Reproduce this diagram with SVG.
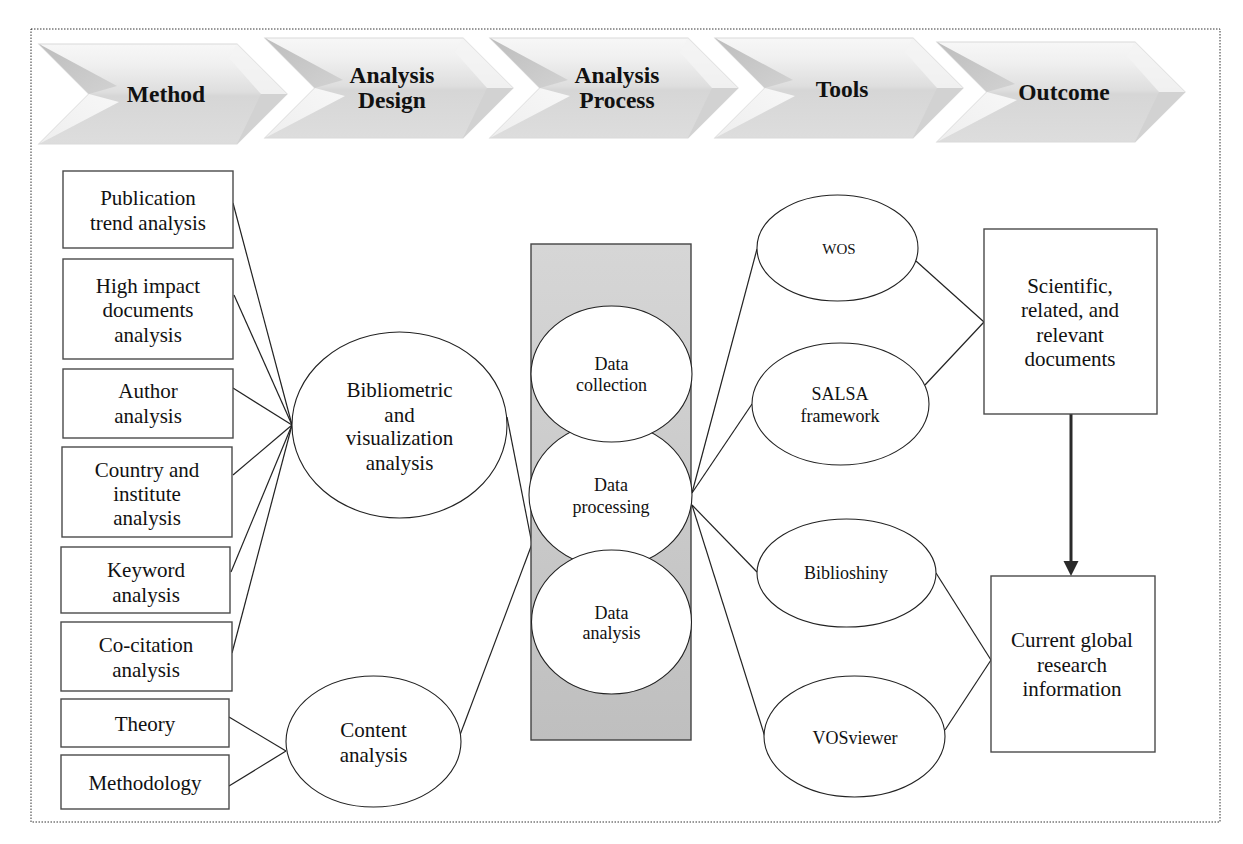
<svg xmlns="http://www.w3.org/2000/svg" xmlns:xlink="http://www.w3.org/1999/xlink" width="1243" height="844" viewBox="0 0 1243 844">
<style>
text{font-family:"Liberation Serif","Times New Roman",serif;fill:#111;text-anchor:middle}
.hd{font-size:23.5px;font-weight:bold}
.t21{font-size:21px}
.t18{font-size:18px}
.t15{font-size:15px}
.box{fill:#fff;stroke:#4a4a4a;stroke-width:1.4}
.ell{fill:#fff;stroke:#222;stroke-width:1.1}
.ln{fill:none;stroke:#222;stroke-width:1.2}
</style>
<defs>
<linearGradient id="chevFill" x1="0" y1="0" x2="0" y2="1">
<stop offset="0" stop-color="#f7f7f7"/>
<stop offset="0.2" stop-color="#f0f0f0"/>
<stop offset="0.48" stop-color="#dedede"/>
<stop offset="0.52" stop-color="#d6d6d6"/>
<stop offset="1" stop-color="#dddddd"/>
</linearGradient>
<linearGradient id="tlFacet" x1="0" y1="0" x2="1" y2="1">
<stop offset="0" stop-color="#bdbdbd"/>
<stop offset="1" stop-color="#d2d2d2"/>
</linearGradient>
<linearGradient id="blFacet" x1="0" y1="1" x2="1" y2="0">
<stop offset="0" stop-color="#eeeeee"/>
<stop offset="1" stop-color="#f7f7f7"/>
</linearGradient>
<linearGradient id="rectFill" x1="0" y1="0" x2="0" y2="1">
<stop offset="0" stop-color="#d6d6d6"/>
<stop offset="1" stop-color="#bfbfbf"/>
</linearGradient>
<g id="chev">
<polygon points="0,0 198,0 248,50 198,100 0,100 50,50" fill="url(#chevFill)" stroke="#d9d9d9" stroke-width="1.2"/>
<polygon points="0,0 50,50 78,42" fill="url(#tlFacet)"/>
<polygon points="0,100 50,50 80,58" fill="url(#blFacet)"/>
<polygon points="198,0 248,50 222,50 190,14" fill="#f3f3f3" opacity="0.85"/>
<polygon points="198,100 248,50 222,50" fill="#d2d2d2"/>
</g>
<marker id="arr" markerUnits="userSpaceOnUse" markerWidth="16" markerHeight="16" refX="2" refY="8" orient="auto">
<path d="M0,0.5 L15,8 L0,15.5 Z" fill="#2a2a2a"/>
</marker>
</defs>

<rect x="31" y="29" width="1189" height="793" fill="none" stroke="#333" stroke-width="1" stroke-dasharray="1.5 1.5"/>

<g id="header">
<g id="h-method"><use xlink:href="#chev" x="39" y="44"/><text class="hd" x="166" y="102">Method</text></g>
<g id="h-design"><use xlink:href="#chev" x="265" y="38"/><text class="hd" x="392" y="83">Analysis</text><text class="hd" x="392" y="108">Design</text></g>
<g id="h-process"><use xlink:href="#chev" x="490" y="38"/><text class="hd" x="617" y="83">Analysis</text><text class="hd" x="617" y="108">Process</text></g>
<g id="h-tools"><use xlink:href="#chev" x="715" y="38"/><text class="hd" x="842" y="97">Tools</text></g>
<g id="h-outcome"><use xlink:href="#chev" x="937" y="42"/><text class="hd" x="1064" y="100">Outcome</text></g>
</g>

<g id="connectors">
<line class="ln" x1="233" y1="203" x2="292" y2="425"/>
<line class="ln" x1="234" y1="295" x2="292" y2="425"/>
<line class="ln" x1="233" y1="388" x2="292" y2="425"/>
<line class="ln" x1="233" y1="475" x2="292" y2="425"/>
<line class="ln" x1="231" y1="572" x2="292" y2="425"/>
<line class="ln" x1="232" y1="653" x2="292" y2="425"/>
<line class="ln" x1="229" y1="717" x2="286" y2="751"/>
<line class="ln" x1="229" y1="786" x2="286" y2="751"/>
<line class="ln" x1="507" y1="417" x2="532" y2="544"/>
<line class="ln" x1="460" y1="735" x2="532" y2="544"/>
<line class="ln" x1="692" y1="493" x2="757" y2="249"/>
<line class="ln" x1="692" y1="493" x2="752" y2="404"/>
<line class="ln" x1="692" y1="505" x2="757" y2="572"/>
<line class="ln" x1="692" y1="505" x2="765" y2="737"/>
<line class="ln" x1="916" y1="261" x2="984" y2="322"/>
<line class="ln" x1="925" y1="385" x2="984" y2="322"/>
<line class="ln" x1="936" y1="573" x2="991" y2="660"/>
<line class="ln" x1="945" y1="730" x2="991" y2="660"/>
<line x1="1071" y1="414" x2="1071" y2="563" stroke="#2a2a2a" stroke-width="3" marker-end="url(#arr)"/>
</g>

<g id="n-publication"><rect class="box" x="63" y="171" width="170" height="77"/><text class="t21" x="148" y="205">Publication</text><text class="t21" x="148" y="230">trend analysis</text></g>
<g id="n-highimpact"><rect class="box" x="63" y="259" width="170" height="100"/><text class="t21" x="148" y="293">High impact</text><text class="t21" x="148" y="317">documents</text><text class="t21" x="148" y="342">analysis</text></g>
<g id="n-author"><rect class="box" x="63" y="369" width="170" height="69"/><text class="t21" x="148" y="398">Author</text><text class="t21" x="148" y="423">analysis</text></g>
<g id="n-country"><rect class="box" x="62" y="447" width="170" height="90"/><text class="t21" x="147" y="477">Country and</text><text class="t21" x="147" y="501">institute</text><text class="t21" x="147" y="525">analysis</text></g>
<g id="n-keyword"><rect class="box" x="61" y="547" width="169" height="66"/><text class="t21" x="146" y="577">Keyword</text><text class="t21" x="146" y="602">analysis</text></g>
<g id="n-cocitation"><rect class="box" x="61" y="622" width="171" height="69"/><text class="t21" x="146" y="652">Co-citation</text><text class="t21" x="146" y="677">analysis</text></g>
<g id="n-theory"><rect class="box" x="61" y="699" width="168" height="48"/><text class="t21" x="145" y="731">Theory</text></g>
<g id="n-methodology"><rect class="box" x="61" y="755" width="168" height="54"/><text class="t21" x="145" y="790">Methodology</text></g>

<g id="n-bibliometric"><ellipse class="ell" cx="399.5" cy="425" rx="107.5" ry="93"/><text class="t21" x="399.5" y="397">Bibliometric</text><text class="t21" x="399.5" y="422">and</text><text class="t21" x="399.5" y="445">visualization</text><text class="t21" x="399.5" y="470">analysis</text></g>
<g id="n-content"><ellipse class="ell" cx="373.5" cy="741.5" rx="87.5" ry="65.5"/><text class="t21" x="373.5" y="737">Content</text><text class="t21" x="373.5" y="762">analysis</text></g>

<g id="n-process">
<rect x="531" y="244" width="160" height="496" fill="url(#rectFill)" stroke="#444" stroke-width="1.4"/>
<g id="n-dataprocessing"><ellipse class="ell" cx="610.5" cy="495" rx="81.5" ry="72"/><text class="t18" x="611" y="491">Data</text><text class="t18" x="611" y="513">processing</text></g>
<g id="n-datacollection"><ellipse class="ell" cx="611.5" cy="374" rx="80.5" ry="68"/><text class="t18" x="611.5" y="370">Data</text><text class="t18" x="611.5" y="391">collection</text></g>
<g id="n-dataanalysis"><ellipse class="ell" cx="611.5" cy="622" rx="80" ry="72"/><text class="t18" x="611.5" y="619">Data</text><text class="t18" x="611.5" y="639">analysis</text></g>
</g>

<g id="n-wos"><ellipse class="ell" cx="837.5" cy="248" rx="80.5" ry="53"/><text class="t15" x="839" y="254">WOS</text></g>
<g id="n-salsa"><ellipse class="ell" cx="840.5" cy="404" rx="88.5" ry="61"/><text class="t18" x="840" y="400">SALSA</text><text class="t18" x="840" y="422">framework</text></g>
<g id="n-biblioshiny"><ellipse class="ell" cx="846.5" cy="573" rx="89.5" ry="54"/><text class="t18" x="846" y="579">Biblioshiny</text></g>
<g id="n-vosviewer"><ellipse class="ell" cx="854.5" cy="736.5" rx="90.5" ry="60.5"/><text class="t18" x="855" y="744">VOSviewer</text></g>

<g id="n-scientific"><rect class="box" x="984" y="229" width="173" height="185"/><text class="t21" x="1070" y="293">Scientific,</text><text class="t21" x="1070" y="317">related, and</text><text class="t21" x="1070" y="342">relevant</text><text class="t21" x="1070" y="366">documents</text></g>
<g id="n-current"><rect class="box" x="991" y="576" width="164" height="176"/><text class="t21" x="1072" y="647">Current global</text><text class="t21" x="1072" y="672">research</text><text class="t21" x="1072" y="696">information</text></g>
</svg>
